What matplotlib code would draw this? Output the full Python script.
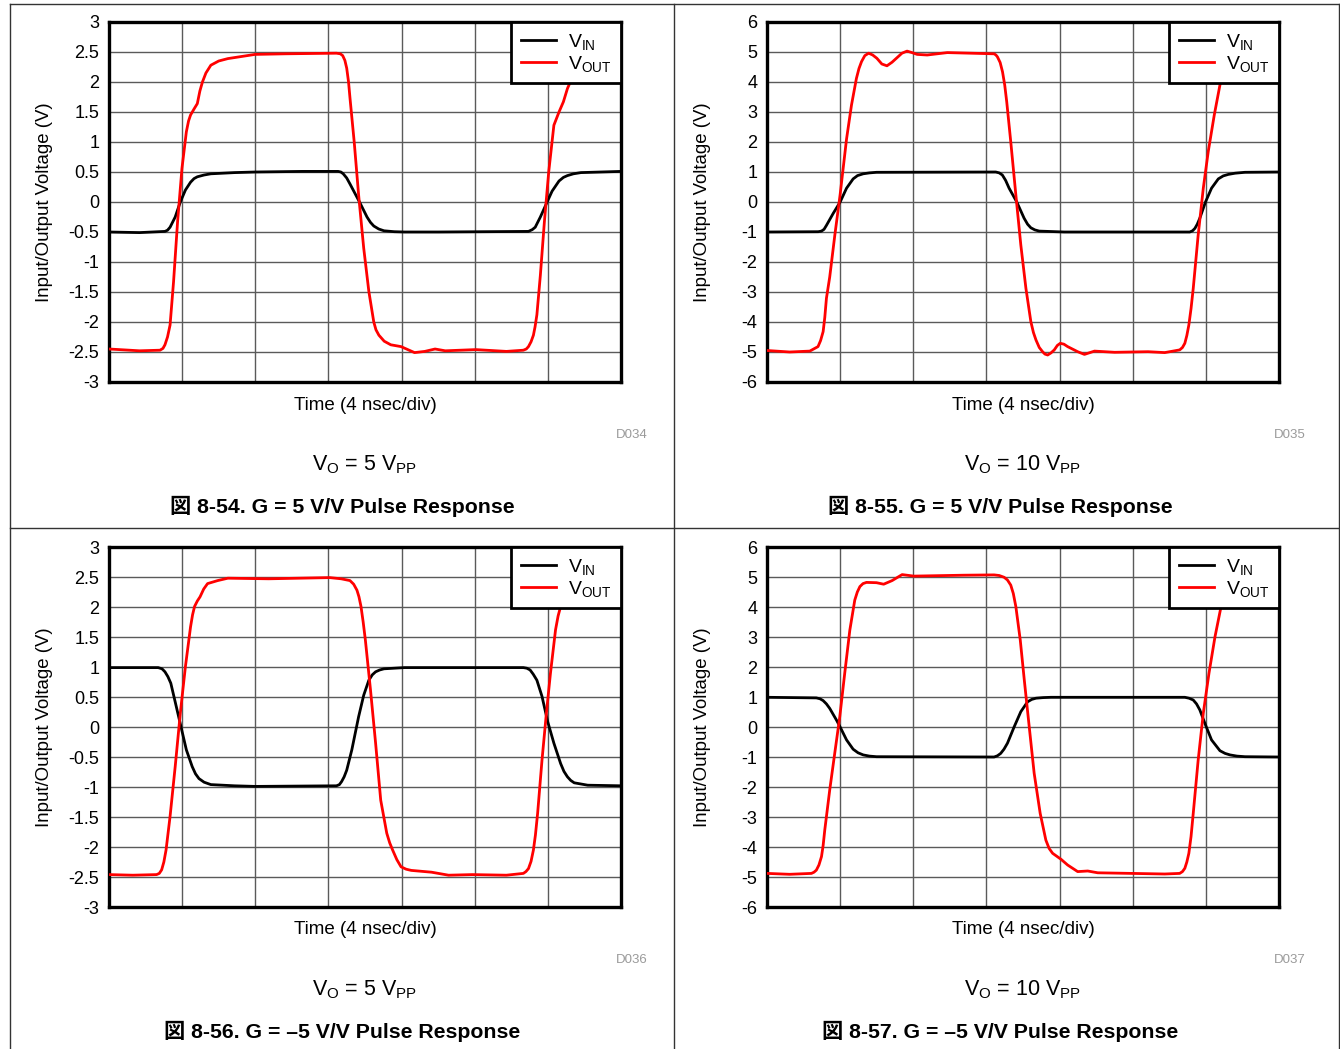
import numpy as np
import matplotlib
matplotlib.use('Agg')
import matplotlib.pyplot as plt
from matplotlib.lines import Line2D

plt.rcParams['font.family'] = ['Liberation Sans', 'Noto Sans CJK JP']
plt.rcParams['mathtext.fontset'] = 'custom'
plt.rcParams['mathtext.rm'] = 'Liberation Sans'
plt.rcParams['mathtext.it'] = 'Liberation Sans'

# time in ns (4 ns/div, 7 div), voltages in V, read off the scope shots
# fig 8-54: G = 5 V/V, Vo = 5 Vpp
t54_in = [0.0, 1.67, 3.06, 3.20, 3.34, 3.62, 3.90, 4.18, 4.46, 4.65, 4.83, 5.20, 5.57, 6.87, 7.99,
          10.58, 12.53, 12.68, 12.81, 13.00, 13.18, 13.70, 14.11, 14.30, 14.48, 14.75, 15.04,
          15.60, 16.16, 18.01, 22.94, 23.15, 23.31, 23.59, 23.96, 24.23, 24.61, 24.85, 25.07,
          25.40, 25.81, 28.0]
v54_in = [-0.50, -0.51, -0.49, -0.47, -0.42, -0.25, 0.0, 0.20, 0.33, 0.39, 0.42, 0.45, 0.47, 0.49,
          0.50, 0.51, 0.51, 0.50, 0.47, 0.40, 0.30, 0.0, -0.25, -0.34, -0.40, -0.45, -0.48,
          -0.495, -0.50, -0.50, -0.49, -0.46, -0.42, -0.25, 0.0, 0.18, 0.35, 0.41, 0.44, 0.47,
          0.49, 0.51]
t54_out = [0.0, 1.67, 2.79, 2.95, 3.06, 3.20, 3.34, 3.53, 3.75, 3.99, 4.23, 4.35, 4.46, 4.65, 4.83,
           4.97, 5.11, 5.30, 5.57, 6.00, 6.50, 7.99, 9.66, 12.44, 12.65, 12.78, 12.90, 13.0, 13.10,
           13.18, 13.41, 13.65, 13.93, 14.21, 14.48, 14.60, 14.76, 15.05, 15.41, 15.97, 16.34,
           16.71, 17.27, 17.83, 18.39, 20.06, 21.73, 22.66, 22.82, 22.94, 23.08, 23.21, 23.30,
           23.40, 23.59, 23.81, 24.05, 24.33, 24.61, 24.85, 25.07, 25.44, 26.0, 28.0]
v54_out = [-2.45, -2.48, -2.47, -2.44, -2.38, -2.25, -2.05, -1.33, -0.33, 0.56, 1.17, 1.35, 1.45,
           1.55, 1.64, 1.85, 2.0, 2.15, 2.28, 2.35, 2.39, 2.46, 2.47, 2.48, 2.47, 2.44, 2.36, 2.23,
           2.0, 1.73, 1.0, 0.12, -0.77, -1.49, -2.0, -2.13, -2.22, -2.32, -2.38, -2.41, -2.46,
           -2.51, -2.49, -2.45, -2.48, -2.46, -2.49, -2.47, -2.45, -2.41, -2.33, -2.22, -2.08,
           -1.88, -1.22, -0.33, 0.51, 1.28, 1.5, 1.67, 1.89, 2.15, 2.38, 2.48]

# fig 8-55: G = 5 V/V, Vo = 10 Vpp
t55_in = [0.0, 2.80, 2.98, 3.12, 3.25, 3.62, 4.0, 4.35, 4.71, 4.95, 5.26, 5.60, 5.99, 12.51, 12.70,
          12.87, 13.05, 13.24, 13.66, 14.06, 14.25, 14.43, 14.65, 14.89, 16.26, 23.12, 23.27,
          23.40, 23.53, 23.67, 23.98, 24.31, 24.68, 24.95, 25.23, 25.60, 26.14, 28.0]
v55_in = [-1.0, -0.99, -0.97, -0.91, -0.78, -0.38, 0.0, 0.46, 0.77, 0.88, 0.94, 0.97, 0.99, 1.0,
          0.97, 0.90, 0.72, 0.46, 0.0, -0.54, -0.74, -0.86, -0.93, -0.97, -1.0, -1.0, -0.96, -0.88,
          -0.74, -0.54, 0.0, 0.46, 0.77, 0.87, 0.92, 0.96, 0.99, 1.0]
t55_out = [0.0, 1.24, 2.34, 2.79, 2.93, 3.07, 3.16, 3.25, 3.43, 3.71, 4.0, 4.35, 4.62, 4.89, 5.03,
           5.17, 5.35, 5.56, 5.78, 6.01, 6.28, 6.56, 6.84, 7.11, 7.38, 7.66, 7.93, 8.21, 8.76, 9.86,
           11.14, 12.42, 12.52, 12.60, 12.75, 12.88, 13.0, 13.11, 13.33, 13.61, 13.88, 14.16,
           14.43, 14.57, 14.71, 14.89, 15.07, 15.20, 15.35, 15.53, 15.71, 15.88, 16.04, 16.24,
           16.44, 16.99, 17.36, 17.91, 19.01, 20.84, 21.75, 22.57, 22.72, 22.85, 22.96, 23.07,
           23.19, 23.31, 23.58, 23.86, 24.13, 24.46, 24.77, 25.14, 25.59, 28.0]
v55_out = [-4.95, -5.0, -4.97, -4.82, -4.62, -4.32, -3.85, -3.21, -2.5, -1.1, 0.25, 2.1, 3.23, 4.12,
           4.45, 4.68, 4.88, 4.96, 4.9, 4.79, 4.6, 4.54, 4.66, 4.81, 4.96, 5.03, 4.98, 4.92, 4.90,
           4.98, 4.96, 4.94, 4.9, 4.84, 4.65, 4.34, 3.9, 3.34, 2.01, 0.23, -1.43, -2.88, -3.99,
           -4.35, -4.6, -4.85, -4.99, -5.07, -5.1, -5.03, -4.93, -4.78, -4.71, -4.74, -4.82, -4.99,
           -5.08, -4.97, -5.01, -4.99, -5.02, -4.93, -4.85, -4.71, -4.45, -4.1, -3.55, -2.88, -1.1,
           0.46, 1.68, 2.9, 3.9, 4.57, 4.92, 4.96]

# fig 8-56: G = -5 V/V, Vo = 5 Vpp
t56_in = [0.0, 2.69, 2.90, 3.06, 3.22, 3.38, 3.68, 3.94, 4.23, 4.55, 4.73, 4.92, 5.20, 5.57, 6.87,
          7.99, 12.44, 12.60, 12.72, 12.86, 13.0, 13.28, 13.65, 13.93, 14.21, 14.40, 14.58, 14.80,
          15.04, 16.16, 22.66, 22.85, 23.03, 23.20, 23.40, 23.68, 23.99, 24.33, 24.70, 24.88,
          25.07, 25.25, 25.44, 26.18, 28.0]
v56_in = [0.99, 0.99, 0.97, 0.92, 0.84, 0.73, 0.34, 0.0, -0.38, -0.66, -0.78, -0.86, -0.92, -0.96,
          -0.98, -0.99, -0.98, -0.96, -0.91, -0.83, -0.72, -0.38, 0.17, 0.53, 0.78, 0.87, 0.92,
          0.95, 0.97, 0.99, 0.99, 0.98, 0.95, 0.88, 0.78, 0.51, 0.09, -0.27, -0.61, -0.74, -0.83,
          -0.89, -0.93, -0.97, -0.98]
t56_out = [0.0, 1.30, 2.60, 2.75, 2.88, 3.00, 3.12, 3.34, 3.62, 3.90, 4.18, 4.46, 4.57, 4.68, 4.83,
           4.98, 5.18, 5.39, 5.94, 6.50, 8.73, 12.07, 12.70, 13.18, 13.38, 13.56, 13.67, 13.78,
           13.90, 14.02, 14.30, 14.58, 14.86, 15.19, 15.35, 15.51, 15.74, 15.97, 16.25, 16.53,
           17.64, 18.57, 19.87, 21.73, 22.66, 22.80, 22.94, 23.08, 23.21, 23.32, 23.44, 23.68,
           23.92, 24.14, 24.42, 24.56, 24.70, 24.88, 25.07, 25.40, 25.81, 28.0]
v56_out = [-2.46, -2.47, -2.46, -2.44, -2.38, -2.25, -2.05, -1.49, -0.66, 0.23, 1.01, 1.67, 1.87,
           2.01, 2.10, 2.17, 2.30, 2.39, 2.44, 2.48, 2.47, 2.49, 2.47, 2.44, 2.38, 2.28, 2.17, 2.01,
           1.75, 1.45, 0.62, -0.27, -1.22, -1.77, -1.93, -2.05, -2.21, -2.33, -2.37, -2.39, -2.42,
           -2.47, -2.46, -2.47, -2.44, -2.41, -2.36, -2.24, -2.05, -1.80, -1.44, -0.55, 0.23, 0.89,
           1.62, 1.85, 2.01, 2.16, 2.28, 2.39, 2.45, 2.48]

# fig 8-57: G = -5 V/V, Vo = 10 Vpp
t57_in = [0.0, 2.70, 2.90, 3.07, 3.25, 3.43, 3.80, 4.0, 4.35, 4.71, 4.98, 5.26, 5.60, 5.99, 12.42,
          12.60, 12.78, 12.96, 13.15, 13.52, 13.88, 14.25, 14.48, 14.71, 15.10, 15.53, 22.85,
          23.08, 23.31, 23.49, 23.67, 23.98, 24.31, 24.77, 25.05, 25.32, 25.70, 26.14, 28.0]
v57_in = [0.99, 0.97, 0.94, 0.88, 0.77, 0.62, 0.23, 0.0, -0.43, -0.74, -0.86, -0.93, -0.97, -0.99,
          -1.0, -0.96, -0.88, -0.74, -0.54, 0.01, 0.51, 0.84, 0.92, 0.96, 0.98, 0.99, 0.99, 0.96,
          0.90, 0.77, 0.57, 0.07, -0.43, -0.79, -0.88, -0.93, -0.97, -0.99, -1.0]
t57_out = [0.0, 1.24, 2.43, 2.57, 2.70, 2.84, 2.98, 3.07, 3.16, 3.43, 3.71, 3.98, 4.25, 4.53, 4.80,
           4.94, 5.08, 5.25, 5.44, 5.99, 6.38, 6.84, 7.39, 8.03, 8.94, 10.77, 12.42, 12.70, 12.97,
           13.15, 13.33, 13.47, 13.61, 13.85, 14.07, 14.34, 14.61, 14.94, 15.25, 15.43, 15.62,
           16.08, 16.44, 16.99, 17.54, 18.09, 19.92, 21.75, 22.57, 22.72, 22.85, 22.96, 23.07,
           23.19, 23.31, 23.58, 23.86, 24.17, 24.50, 24.83, 25.03, 25.23, 25.50, 25.78, 28.0]
v57_out = [-4.88, -4.91, -4.88, -4.84, -4.77, -4.60, -4.32, -3.95, -3.43, -2.1, -0.85, 0.34, 1.79,
           3.23, 4.23, 4.50, 4.68, 4.78, 4.82, 4.81, 4.76, 4.88, 5.08, 5.03, 5.04, 5.06, 5.07, 5.05,
           4.99, 4.90, 4.73, 4.45, 4.01, 2.90, 1.57, 0.01, -1.54, -2.88, -3.77, -4.05, -4.21,
           -4.41, -4.60, -4.82, -4.80, -4.86, -4.88, -4.90, -4.88, -4.82, -4.71, -4.50, -4.21,
           -3.65, -2.88, -1.10, 0.46, 1.79, 3.01, 4.01, 4.42, 4.68, 4.87, 4.96, 5.01]

panels = [
    dict(tin=t54_in, vin=v54_in, tout=t54_out, vout=v54_out, ymax=3, step=0.5,
         code='D034', vo='5', cap='図 8-54. G = 5 V/V Pulse Response'),
    dict(tin=t55_in, vin=v55_in, tout=t55_out, vout=v55_out, ymax=6, step=1,
         code='D035', vo='10', cap='図 8-55. G = 5 V/V Pulse Response'),
    dict(tin=t56_in, vin=v56_in, tout=t56_out, vout=v56_out, ymax=3, step=0.5,
         code='D036', vo='5', cap='図 8-56. G = –5 V/V Pulse Response'),
    dict(tin=t57_in, vin=v57_in, tout=t57_out, vout=v57_out, ymax=6, step=1,
         code='D037', vo='10', cap='図 8-57. G = –5 V/V Pulse Response'),
]

W, H = 1340, 1049
fig = plt.figure(figsize=(W / 100, H / 100), dpi=100)


def fx(px):
    return px / W


def fy(py):
    return 1 - py / H


# table borders
for x0, y0, x1, y1 in [(10, 4, 1339, 4), (10, 528, 1339, 528), (10, 4, 10, 1049),
                       (674, 4, 674, 1049), (1339, 4, 1339, 1049)]:
    fig.add_artist(Line2D([fx(x0), fx(x1)], [fy(y0), fy(y1)], color='#333333', lw=1.0))

for i, p in enumerate(panels):
    col, row = i % 2, i // 2
    dx = 0 if col == 0 else 658
    dy = 0 if row == 0 else 525
    left, right, top, bot = 109 + dx, 621 + dx, 22 + dy, 382 + dy
    ax = fig.add_axes([fx(left), fy(bot), fx(right - left), (bot - top) / H])

    ax.plot(p['tin'], p['vin'], color='black', lw=2.0, label=r'V$_{\mathrm{IN}}$', zorder=3)
    ax.plot(p['tout'], p['vout'], color='#ff0000', lw=2.0, label=r'V$_{\mathrm{OUT}}$', zorder=3)

    ax.set_xlim(0, 28)
    ax.set_ylim(-p['ymax'], p['ymax'])
    ax.set_xticks(np.arange(0, 29, 4))
    ax.set_xticklabels([])
    yt = np.arange(-p['ymax'], p['ymax'] + p['step'] / 2, p['step'])
    ax.set_yticks(yt)
    ax.set_yticklabels([('%g' % v) for v in yt], fontsize=13)
    ax.tick_params(length=0, pad=7)
    ax.grid(True, color='#5a5a5a', lw=1.0)
    ax.set_axisbelow(True)
    for s in ax.spines.values():
        s.set_linewidth(2.4)
        s.set_color('black')

    leg = ax.legend(loc='upper right', borderaxespad=0, fancybox=False, framealpha=1,
                    edgecolor='black', fontsize=14, handlelength=1.8, handletextpad=0.6,
                    labelspacing=0.1, borderpad=0.5)
    leg.get_frame().set_linewidth(2.0)

    cx = (left + right) / 2
    fig.text(fx(45 + dx), fy((top + bot) / 2), 'Input/Output Voltage (V)', rotation=90,
             ha='center', va='center', fontsize=13.4)
    fig.text(fx(cx), fy(405 + dy), 'Time (4 nsec/div)', ha='center', va='center', fontsize=13.5)
    fig.text(fx(632 + dx), fy(435 + dy), p['code'], ha='center', va='center', fontsize=9.5,
             color='#9a9a9a')
    fig.text(fx(cx), fy(465 + dy), r'V$_{\mathrm{O}}$ = %s V$_{\mathrm{PP}}$' % p['vo'],
             ha='center', va='center', fontsize=15.5)
    fig.text(fx(342 + dx), fy(506 + dy), p['cap'], ha='center', va='center', fontsize=15.3,
             fontweight='bold')

fig.savefig('out.png', dpi=100)
